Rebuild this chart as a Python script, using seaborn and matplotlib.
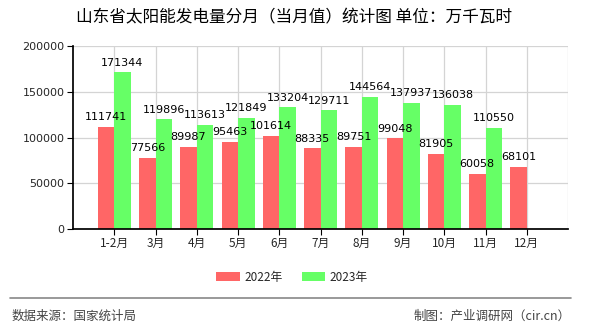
import numpy as np
import pandas as pd
import matplotlib
matplotlib.use("Agg")
import matplotlib.pyplot as plt
import seaborn as sns
from matplotlib.patches import Patch

categories = ["1-2月", "3月", "4月", "5月", "6月", "7月", "8月", "9月", "10月", "11月", "12月"]
values_2022 = [111741, 77566, 89987, 95463, 101614, 88335, 89751, 99048, 81905, 60058, 68101]
values_2023 = [171344, 119896, 113613, 121849, 133204, 129711, 144564, 137937, 136038, 110550, np.nan]
series_names = ["2022年", "2023年"]
colors = ["#ff6666", "#66ff66"]
yticks = [0, 50000, 100000, 150000, 200000]

sns.set_theme(style="white")
plt.rcParams["font.family"] = ["Noto Sans CJK SC", "DejaVu Sans"]

df = pd.DataFrame({
    "month": categories * 2,
    "value": values_2022 + values_2023,
    "year": [series_names[0]] * len(categories) + [series_names[1]] * len(categories),
})

W, H = 590, 330
fig = plt.figure(figsize=(W / 100, H / 100), dpi=100)
ax = fig.add_axes([73 / W, 1 - 229 / H, (568 - 73) / W, (229 - 46) / H])

sns.barplot(data=df, x="month", y="value", hue="year", order=categories,
            hue_order=series_names, palette=colors, width=0.8, saturation=1,
            ax=ax, legend=False, linewidth=0)

n = len(categories)
ax.set_ylim(0, 200000)
ax.set_xlim(-1, n)
ax.set_yticks(yticks)
ax.set_yticklabels([str(v) for v in yticks], fontsize=8, family="DejaVu Sans")
ax.set_xticks(range(n))
ax.set_xticklabels(categories, fontsize=8.5)
ax.set_xlabel("")
ax.set_ylabel("")
ax.grid(axis="both", color="#d4d4d4", linewidth=0.9)
ax.axvline(n, color="#d4d4d4", linewidth=0.9, zorder=0)
ax.set_axisbelow(True)
for s in ["top", "right"]:
    ax.spines[s].set_visible(False)
ax.spines["left"].set_color("black")
ax.spines["bottom"].set_color("black")
ax.tick_params(axis="both", which="major", length=4, width=0.8, color="black", direction="out",
               left=True, bottom=True, pad=2)

for cont in ax.containers:
    for p in cont.patches:
        h = p.get_height()
        if np.isnan(h) or h == 0:
            continue
        ax.text(p.get_x() + p.get_width() / 2, h + 5000, f"{int(round(h))}",
                ha="center", va="bottom", fontsize=8, family="DejaVu Sans", color="black")

fig.text(294.5 / W, 1 - 18 / H, "山东省太阳能发电量分月（当月值）统计图 单位：万千瓦时",
         ha="center", va="center", fontsize=12, color="black")

handles = [Patch(facecolor=c, edgecolor="none") for c in colors]
fig.legend(handles, series_names, loc="center", bbox_to_anchor=(292 / W, 1 - 277 / H),
           ncol=2, frameon=False, fontsize=8.5, handlelength=2.0, handleheight=0.9,
           columnspacing=1.6, handletextpad=0.4)

fig.add_artist(plt.Line2D([10 / W, 571 / W], [1 - 298 / H, 1 - 298 / H],
                          color="#888888", linewidth=1.2, transform=fig.transFigure))
fig.text(12 / W, 1 - 316 / H, "数据来源：国家统计局", ha="left", va="center", fontsize=9, color="#444444")
fig.text(571 / W, 1 - 316 / H, "制图：产业调研网（cir.cn）", ha="right", va="center", fontsize=9, color="#444444")

fig.savefig("out.png", dpi=100)
